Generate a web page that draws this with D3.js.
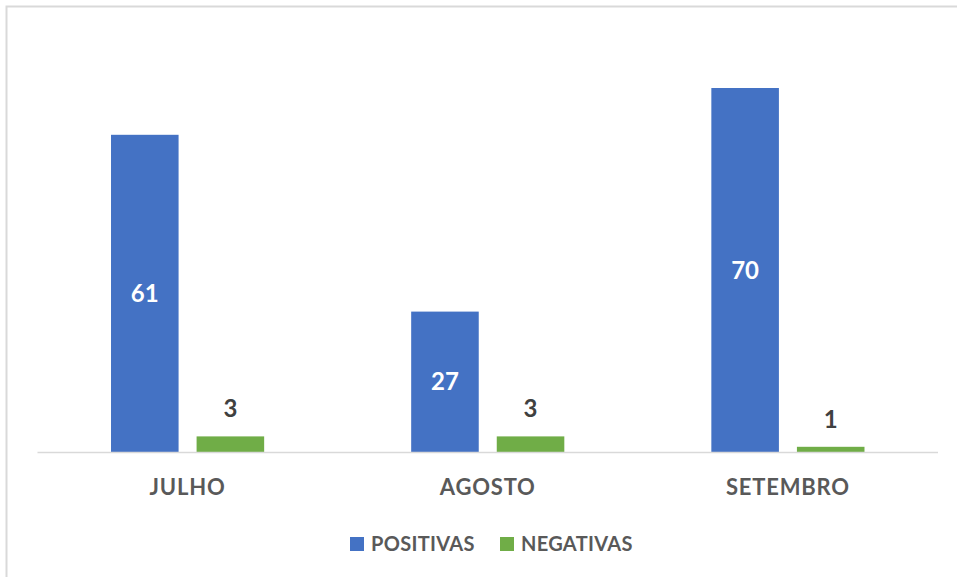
<!DOCTYPE html>
<html><head><meta charset="utf-8">
<script src="https://cdn.jsdelivr.net/npm/d3@7"></script>
<style>body{margin:0;background:#fff}svg{display:block}text{font-family:Lato,"Open Sans",sans-serif;font-weight:bold}</style>
</head><body><svg id="c" width="957" height="577"></svg>
<script>
const categories = ["JULHO", "AGOSTO", "SETEMBRO"];
const seriesNames = ["POSITIVAS", "NEGATIVAS"];
const positivas = [61, 27, 70];
const negativas = [3, 3, 1];
const colors = ["#4472C4", "#70AD47"];

const svg = d3.select("#c");
const W = 957, H = 577;
// chart border (only top and left visible)
svg.append("rect").attr("x", 6.5).attr("y", 6.5).attr("width", W + 10).attr("height", H + 10)
  .attr("fill", "none").attr("stroke", "#d9d9d9").attr("stroke-width", 2);

const left = 37.5, right = 938, baseY = 452, topY = 36;
const x0 = d3.scaleBand().domain(categories).range([left, right]).padding(0);
const x1 = d3.scaleBand().domain(seriesNames).range([0, x0.bandwidth()]).paddingInner(0.2105).paddingOuter(0.859);
const y = d3.scaleLinear().domain([0, 80]).range([baseY, topY]);

const data = categories.map((c, i) => ({cat: c, vals: [positivas[i], negativas[i]]}));

const g = svg.append("g");
data.forEach(d => {
  d.vals.forEach((v, j) => {
    const s = seriesNames[j];
    const bx = x0(d.cat) + x1(s);
    g.append("rect").attr("x", bx).attr("y", y(v)).attr("width", x1.bandwidth())
      .attr("height", baseY - y(v)).attr("fill", colors[j]);
    if (j === 0) {
      g.append("text").attr("x", bx + x1.bandwidth() / 2).attr("y", (y(v) + baseY) / 2)
        .attr("dy", "0.36em").attr("text-anchor", "middle").attr("fill", "#fff")
        .attr("font-size", 24).text(v);
    } else {
      g.append("text").attr("x", bx + x1.bandwidth() / 2).attr("y", y(v) - 19)
        .attr("text-anchor", "middle").attr("fill", "#404040")
        .attr("font-size", 24).text(v);
    }
  });
});

// axis line
svg.append("line").attr("x1", left).attr("x2", right).attr("y1", baseY + 0.5).attr("y2", baseY + 0.5)
  .attr("stroke", "#d9d9d9").attr("stroke-width", 1.5);

// category labels
const xAxis = d3.axisBottom(x0).tickSize(0).tickPadding(0);
const ax = svg.append("g").attr("transform", `translate(0,${baseY})`).call(xAxis);
ax.select(".domain").remove();
ax.selectAll("text").attr("y", 42.5).attr("dy", 0).attr("fill", "#595959")
  .attr("font-size", 22).attr("font-family", "Lato, sans-serif").attr("font-weight", "bold")
  .attr("letter-spacing", "0.8px");

// legend
const legX = [350, 500];
seriesNames.forEach((s, j) => {
  svg.append("rect").attr("x", legX[j]).attr("y", 537).attr("width", 14).attr("height", 14).attr("fill", colors[j]);
  svg.append("text").attr("x", legX[j] + 21).attr("y", 551).attr("fill", "#595959")
    .attr("font-size", 20).attr("letter-spacing", "0.3px").text(s);
});
</script></body></html>
